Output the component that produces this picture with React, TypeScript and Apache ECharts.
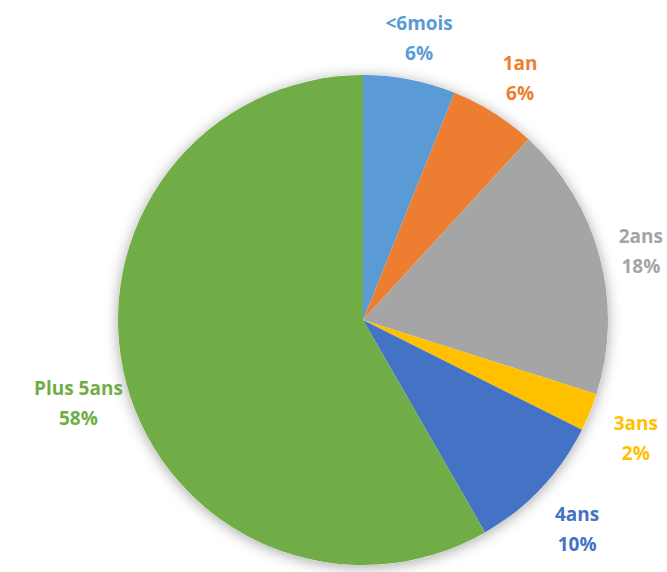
import React, { useEffect, useRef } from "react";
import * as echarts from "echarts";

const categories = ["<6mois", "1an", "2ans", "3ans", "4ans", "Plus 5ans"];
const values = [6.1, 5.7, 18.1, 2.5, 9.3, 58.3];
const percentLabels = ["6%", "6%", "18%", "2%", "10%", "58%"];
const colors = ["#5B9BD5", "#ED7D31", "#A5A5A5", "#FFC000", "#4472C4", "#70AD47"];

export default function App() {
  const ref = useRef<HTMLDivElement>(null);
  useEffect(() => {
    if (!ref.current) return;
    const chart = echarts.init(ref.current, undefined, { renderer: "svg" });
    const center = [363, 320];
    const R = 245;
    const W = 667;
    chart.setOption({
      animation: false,
      backgroundColor: "#ffffff",
      series: [
        {
          type: "pie",
          silent: true,
          center,
          radius: R,
          data: [{ value: 1, name: "bg" }],
          label: { show: false },
          labelLine: { show: false },
          itemStyle: {
            color: "#ffffff",
            shadowBlur: 14,
            shadowColor: "rgba(0,0,0,0.35)",
            shadowOffsetX: 0,
            shadowOffsetY: 2,
          },
        },
        {
          type: "pie",
          center,
          radius: R,
          startAngle: 90,
          clockwise: true,
          data: categories.map((c, i) => ({
            name: c,
            value: values[i],
            itemStyle: { color: colors[i] },
          })),
          label: { show: false },
          labelLine: { show: false },
        },
        {
          type: "pie",
          silent: true,
          center,
          radius: [R * 1.13, R * 1.25],
          startAngle: 90,
          clockwise: true,
          avoidLabelOverlap: false,
          data: categories.map((c, i) => ({
            name: c,
            value: values[i],
            itemStyle: { color: "rgba(0,0,0,0)" },
            label: { color: colors[i] },
          })),
          label: {
            show: true,
            position: "inside",
            rotate: 0,
            fontFamily: "Open Sans",
            fontWeight: "bold",
            fontSize: 19,
            lineHeight: 30,
            align: "center",
            formatter: (p: any) => `${categories[p.dataIndex]}\n${percentLabels[p.dataIndex]}`,
          },
          labelLayout: (p: any) => {
            const r = p.labelRect;
            const over = r.x + r.width - (W - 4);
            return { dx: over > 0 ? -over : 0, dy: 7 };
          },
          labelLine: { show: false },
        },
      ],
    });
    return () => chart.dispose();
  }, []);
  return (
    <div
      ref={ref}
      style={{ position: "fixed", left: 0, top: 0, width: 667, height: 572, background: "#fff" }}
    />
  );
}
